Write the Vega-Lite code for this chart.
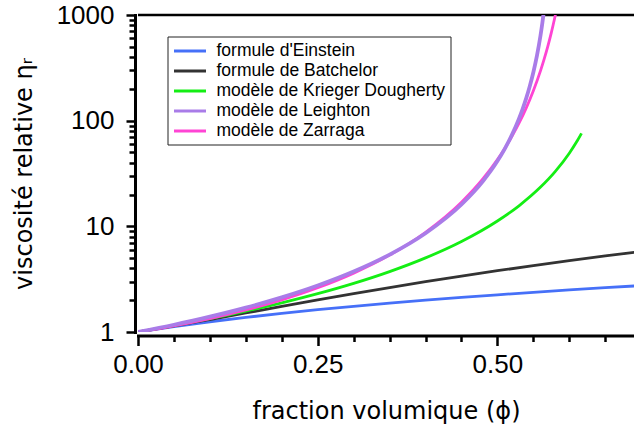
{
  "$schema": "https://vega.github.io/schema/vega-lite/v6.json",
  "width": 496,
  "height": 317,
  "autosize": {"type": "none"},
  "padding": {"left": 138, "top": 15, "right": 0, "bottom": 105},
  "config": {"view": {"stroke": null}, "font": "Liberation Sans"},
  "datasets": {
    "curves": [
      {"s": "formule d'Einstein", "phi": 0, "eta": 1},
      {"s": "formule d'Einstein", "phi": 0.05, "eta": 1.125},
      {"s": "formule d'Einstein", "phi": 0.1, "eta": 1.25},
      {"s": "formule d'Einstein", "phi": 0.15, "eta": 1.375},
      {"s": "formule d'Einstein", "phi": 0.2, "eta": 1.5},
      {"s": "formule d'Einstein", "phi": 0.25, "eta": 1.625},
      {"s": "formule d'Einstein", "phi": 0.3, "eta": 1.75},
      {"s": "formule d'Einstein", "phi": 0.35, "eta": 1.875},
      {"s": "formule d'Einstein", "phi": 0.4, "eta": 2.0},
      {"s": "formule d'Einstein", "phi": 0.45, "eta": 2.125},
      {"s": "formule d'Einstein", "phi": 0.5, "eta": 2.25},
      {"s": "formule d'Einstein", "phi": 0.55, "eta": 2.375},
      {"s": "formule d'Einstein", "phi": 0.6, "eta": 2.5},
      {"s": "formule d'Einstein", "phi": 0.65, "eta": 2.625},
      {"s": "formule d'Einstein", "phi": 0.7, "eta": 2.75},
      {"s": "formule de Batchelor", "phi": 0, "eta": 1},
      {"s": "formule de Batchelor", "phi": 0.05, "eta": 1.1405},
      {"s": "formule de Batchelor", "phi": 0.1, "eta": 1.312},
      {"s": "formule de Batchelor", "phi": 0.15, "eta": 1.5145},
      {"s": "formule de Batchelor", "phi": 0.2, "eta": 1.748},
      {"s": "formule de Batchelor", "phi": 0.25, "eta": 2.0125},
      {"s": "formule de Batchelor", "phi": 0.3, "eta": 2.308},
      {"s": "formule de Batchelor", "phi": 0.35, "eta": 2.6345},
      {"s": "formule de Batchelor", "phi": 0.4, "eta": 2.992},
      {"s": "formule de Batchelor", "phi": 0.45, "eta": 3.3805},
      {"s": "formule de Batchelor", "phi": 0.5, "eta": 3.8},
      {"s": "formule de Batchelor", "phi": 0.55, "eta": 4.2505},
      {"s": "formule de Batchelor", "phi": 0.6, "eta": 4.732},
      {"s": "formule de Batchelor", "phi": 0.65, "eta": 5.2445},
      {"s": "formule de Batchelor", "phi": 0.7, "eta": 5.788},
      {"s": "modèle de Krieger Dougherty", "phi": 0, "eta": 1},
      {"s": "modèle de Krieger Dougherty", "phi": 0.05, "eta": 1.149},
      {"s": "modèle de Krieger Dougherty", "phi": 0.1, "eta": 1.336},
      {"s": "modèle de Krieger Dougherty", "phi": 0.15, "eta": 1.574},
      {"s": "modèle de Krieger Dougherty", "phi": 0.2, "eta": 1.885},
      {"s": "modèle de Krieger Dougherty", "phi": 0.25, "eta": 2.303},
      {"s": "modèle de Krieger Dougherty", "phi": 0.3, "eta": 2.884},
      {"s": "modèle de Krieger Dougherty", "phi": 0.35, "eta": 3.728},
      {"s": "modèle de Krieger Dougherty", "phi": 0.4, "eta": 5.027},
      {"s": "modèle de Krieger Dougherty", "phi": 0.45, "eta": 7.19},
      {"s": "modèle de Krieger Dougherty", "phi": 0.5, "eta": 11.24},
      {"s": "modèle de Krieger Dougherty", "phi": 0.53, "eta": 15.65},
      {"s": "modèle de Krieger Dougherty", "phi": 0.56, "eta": 23.5},
      {"s": "modèle de Krieger Dougherty", "phi": 0.58, "eta": 32.75},
      {"s": "modèle de Krieger Dougherty", "phi": 0.6, "eta": 49.15},
      {"s": "modèle de Krieger Dougherty", "phi": 0.61, "eta": 62.7},
      {"s": "modèle de Krieger Dougherty", "phi": 0.617, "eta": 75.9},
      {"s": "modèle de Zarraga", "phi": 0, "eta": 1},
      {"s": "modèle de Zarraga", "phi": 0.05, "eta": 1.1448},
      {"s": "modèle de Zarraga", "phi": 0.1, "eta": 1.3413},
      {"s": "modèle de Zarraga", "phi": 0.15, "eta": 1.6161},
      {"s": "modèle de Zarraga", "phi": 0.2, "eta": 2.0147},
      {"s": "modèle de Zarraga", "phi": 0.25, "eta": 2.6214},
      {"s": "modèle de Zarraga", "phi": 0.3, "eta": 3.6048},
      {"s": "modèle de Zarraga", "phi": 0.35, "eta": 5.3384},
      {"s": "modèle de Zarraga", "phi": 0.4, "eta": 8.779},
      {"s": "modèle de Zarraga", "phi": 0.45, "eta": 16.926},
      {"s": "modèle de Zarraga", "phi": 0.48, "eta": 28.25},
      {"s": "modèle de Zarraga", "phi": 0.5, "eta": 42.81},
      {"s": "modèle de Zarraga", "phi": 0.51, "eta": 54.29},
      {"s": "modèle de Zarraga", "phi": 0.52, "eta": 70.59},
      {"s": "modèle de Zarraga", "phi": 0.53, "eta": 94.59},
      {"s": "modèle de Zarraga", "phi": 0.54, "eta": 131.57},
      {"s": "modèle de Zarraga", "phi": 0.55, "eta": 191.86},
      {"s": "modèle de Zarraga", "phi": 0.56, "eta": 297.6},
      {"s": "modèle de Zarraga", "phi": 0.565, "eta": 381.9},
      {"s": "modèle de Zarraga", "phi": 0.57, "eta": 502.3},
      {"s": "modèle de Zarraga", "phi": 0.575, "eta": 681.1},
      {"s": "modèle de Zarraga", "phi": 0.5775, "eta": 803.7},
      {"s": "modèle de Zarraga", "phi": 0.58, "eta": 958.5},
      {"s": "modèle de Zarraga", "phi": 0.583, "eta": 1202.4},
      {"s": "modèle de Leighton", "phi": 0, "eta": 1},
      {"s": "modèle de Leighton", "phi": 0.05, "eta": 1.1709},
      {"s": "modèle de Leighton", "phi": 0.1, "eta": 1.3954},
      {"s": "modèle de Leighton", "phi": 0.15, "eta": 1.6991},
      {"s": "modèle de Leighton", "phi": 0.2, "eta": 2.1254},
      {"s": "modèle de Leighton", "phi": 0.25, "eta": 2.7526},
      {"s": "modèle de Leighton", "phi": 0.3, "eta": 3.7332},
      {"s": "modèle de Leighton", "phi": 0.35, "eta": 5.4006},
      {"s": "modèle de Leighton", "phi": 0.4, "eta": 8.6047},
      {"s": "modèle de Leighton", "phi": 0.45, "eta": 16.092},
      {"s": "modèle de Leighton", "phi": 0.48, "eta": 26.79},
      {"s": "modèle de Leighton", "phi": 0.5, "eta": 41.44},
      {"s": "modèle de Leighton", "phi": 0.51, "eta": 53.85},
      {"s": "modèle de Leighton", "phi": 0.52, "eta": 72.93},
      {"s": "modèle de Leighton", "phi": 0.53, "eta": 104.48},
      {"s": "modèle de Leighton", "phi": 0.535, "eta": 128.7},
      {"s": "modèle de Leighton", "phi": 0.54, "eta": 162.4},
      {"s": "modèle de Leighton", "phi": 0.545, "eta": 211.6},
      {"s": "modèle de Leighton", "phi": 0.55, "eta": 287.3},
      {"s": "modèle de Leighton", "phi": 0.555, "eta": 412.7},
      {"s": "modèle de Leighton", "phi": 0.56, "eta": 643.2},
      {"s": "modèle de Leighton", "phi": 0.5625, "eta": 839.0},
      {"s": "modèle de Leighton", "phi": 0.565, "eta": 1140.6}
    ]
  },
  "layer": [
    {
      "data": {"values": [{}]},
      "mark": {"type": "rule", "color": "black", "strokeWidth": 2.5},
      "encoding": {"y": {"datum": 1000, "type": "quantitative"}}
    },
    {
      "data": {"name": "curves"},
      "mark": {"type": "line", "clip": true, "interpolate": "monotone"},
      "encoding": {
        "x": {
          "field": "phi",
          "type": "quantitative",
          "scale": {"domain": [0, 0.69], "nice": false, "zero": false},
          "axis": {
            "title": "fraction volumique (ϕ)",
            "titleFont": "DejaVu Sans",
            "titleFontSize": 24,
            "titleFontWeight": "normal",
            "titleColor": "black",
            "titlePadding": 22,
            "values": [0, 0.05, 0.1, 0.15, 0.2, 0.25, 0.3, 0.35, 0.4, 0.45, 0.5, 0.55, 0.6, 0.65],
            "labelExpr": "(datum.value === 0 || datum.value === 0.25 || datum.value === 0.5) ? format(datum.value, '.2f') : ''",
            "labelFontSize": 26,
            "labelColor": "black",
            "labelPadding": 6,
            "labelOverlap": false,
            "labelFlush": false,
            "labelBound": false,
            "offset": 3.5,
            "domainColor": "black",
            "domainWidth": 3,
            "domainCap": "square",
            "tickColor": "black",
            "tickWidth": 2.5,
            "tickSize": {"condition": {"test": "datum.value === 0 || datum.value === 0.25 || datum.value === 0.5", "value": 10}, "value": 6},
            "grid": false
          }
        },
        "y": {
          "field": "eta",
          "type": "quantitative",
          "scale": {"type": "log", "domain": [1, 1000], "nice": false},
          "axis": {
            "title": "viscosité relative ηᵣ",
            "titleFont": "DejaVu Sans",
            "titleFontSize": 24,
            "titleFontWeight": "normal",
            "titleColor": "black",
            "titlePadding": 20,
            "values": [1, 2, 3, 4, 5, 6, 7, 8, 9, 10, 20, 30, 40, 50, 60, 70, 80, 90, 100, 200, 300, 400, 500, 600, 700, 800, 900, 1000],
            "labelExpr": "(datum.value === 1 || datum.value === 10 || datum.value === 100 || datum.value === 1000) ? format(datum.value, 'd') : ''",
            "labelFontSize": 26,
            "labelColor": "black",
            "labelPadding": 12,
            "labelOverlap": false,
            "labelFlush": false,
            "labelBound": false,
            "offset": 3,
            "domainColor": "black",
            "domainWidth": 3,
            "domainCap": "square",
            "tickColor": "black",
            "tickWidth": 2.5,
            "tickSize": {"condition": {"test": "datum.value === 1 || datum.value === 10 || datum.value === 100 || datum.value === 1000", "value": 9}, "value": 6},
            "grid": false
          }
        },
        "color": {
          "field": "s",
          "type": "nominal",
          "scale": {
            "domain": ["formule d'Einstein", "formule de Batchelor", "modèle de Krieger Dougherty", "modèle de Leighton", "modèle de Zarraga"],
            "range": ["#4670f8", "#333333", "#14ee14", "#a97ce8", "#ff44d4"]
          },
          "legend": {
            "title": null,
            "orient": "none",
            "legendX": 29.5,
            "legendY": 21.5,
            "direction": "vertical",
            "symbolType": "M-1,0H3",
            "symbolSize": 256,
            "symbolStrokeWidth": 3,
            "labelFontSize": 17.5,
            "labelColor": "black",
            "labelOffset": 25,
            "labelLimit": 400,
            "strokeColor": "#222222",
            "fillColor": "white",
            "padding": 5,
            "rowPadding": 2
          }
        },
        "strokeWidth": {"condition": {"test": "datum.s === 'modèle de Leighton'", "value": 3.8}, "value": 2.8}
      }
    }
  ]
}
